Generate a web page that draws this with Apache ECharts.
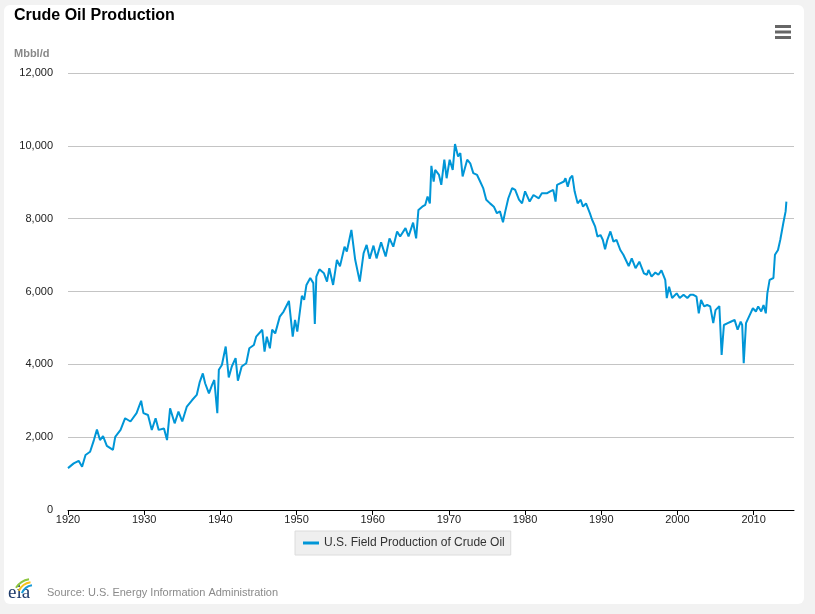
<!DOCTYPE html>
<html><head><meta charset="utf-8">
<script src="https://cdn.jsdelivr.net/npm/echarts@6/dist/echarts.min.js"></script>
<style>
html,body{margin:0;padding:0;background:#f2f2f2;width:815px;height:614px;overflow:hidden}
#card{position:absolute;left:4px;top:5px;width:800px;height:599px;background:#fff;border-radius:6px}
#chart{position:absolute;left:0;top:0;width:815px;height:614px}
</style></head><body><div id="card"></div><div id="chart"></div>
<script>
// Time (decimal year) and U.S. field production of crude oil (thousand barrels per day)
const years = [
1920.0,1920.75,1921.4,1921.85,1922.3,1922.9,1923.4,1923.8,1924.2,1924.6,1925.1,1925.9,1926.2,1926.9,1927.5,1928.2,1929.0,1929.6,1929.9,
1930.5,1931.0,1931.5,1931.9,1932.6,1933.0,1933.4,1934.0,1934.5,1935.0,1935.6,1936.3,1936.9,1937.3,1937.7,1938.0,1938.5,1938.9,1939.2,1939.6,1939.8,
1940.2,1940.7,1941.1,1941.5,1942.0,1942.3,1942.8,1943.4,1943.8,1944.4,1944.7,1945.5,1945.8,1946.1,1946.5,1946.8,1947.2,1947.8,1948.3,1949.0,1949.5,1949.8,
1950.1,1950.7,1951.0,1951.3,1951.8,1952.2,1952.4,1952.6,1953.0,1953.6,1954.0,1954.3,1954.8,1955.3,1955.7,1956.3,1956.6,1957.2,1957.7,1958.3,1958.8,1959.2,1959.6,
1960.1,1960.5,1961.1,1961.7,1962.2,1962.7,1963.2,1963.6,1964.3,1964.7,1965.3,1965.7,1966.0,1966.5,1966.9,1967.2,1967.5,1967.7,1968.0,1968.2,1968.7,1969.0,1969.4,1969.7,
1970.1,1970.5,1970.8,1971.2,1971.5,1971.8,1972.4,1972.8,1973.2,1973.7,1974.1,1974.5,1974.9,1975.4,1975.9,1976.3,1976.7,1977.1,1977.4,1977.8,1978.3,1978.7,1979.2,1979.6,
1980.0,1980.6,1981.1,1981.8,1982.2,1982.9,1983.3,1983.7,1984.0,1984.2,1984.6,1985.1,1985.3,1985.6,1985.9,1986.2,1986.5,1986.9,1987.3,1987.6,1988.0,1988.5,1988.8,1989.2,1989.5,1989.9,
1990.2,1990.5,1990.8,1991.2,1991.6,1992.0,1992.5,1992.9,1993.6,1994.0,1994.5,1995.0,1995.6,1996.0,1996.2,1996.6,1997.1,1997.5,1997.9,1998.4,1998.6,1998.9,1999.3,1999.9,
2000.3,2000.8,2001.3,2001.7,2002.1,2002.5,2002.8,2003.1,2003.5,2003.9,2004.3,2004.7,2005.0,2005.5,2005.8,2006.1,2006.6,2007.0,2007.5,2007.9,2008.3,2008.5,2008.7,2009.0,2009.5,2009.9,
2010.3,2010.6,2011.0,2011.3,2011.6,2011.8,2012.1,2012.6,2012.8,2013.2,2013.5,2013.9,2014.2,2014.3
];
const production = [
1150,1280,1350,1190,1510,1600,1920,2210,1920,2030,1760,1650,2010,2200,2520,2430,2660,3000,2660,
2610,2200,2520,2200,2240,1920,2790,2380,2700,2430,2840,3020,3160,3520,3750,3480,3200,3430,3570,2660,3850,
3980,4490,3640,3940,4170,3550,3940,4030,4440,4530,4760,4950,4350,4760,4440,4950,4850,5310,5450,5740,4760,5220,
4900,5880,5770,6180,6370,6230,5110,6410,6610,6500,6270,6640,6180,6870,6690,7230,7100,7690,6870,6270,7050,7280,6900,
7260,6910,7350,6960,7460,7230,7650,7510,7740,7510,7890,7460,8240,8330,8380,8610,8420,9450,9020,9340,9200,8930,9620,9110,
9620,9340,10050,9710,9800,9160,9620,9520,9250,9200,9020,8840,8520,8420,8330,8150,8200,7900,8200,8560,8840,8790,8520,8420,
8750,8470,8650,8560,8700,8700,8750,8790,8470,8930,8970,9020,9110,8880,9110,9180,8750,8420,8520,8330,8420,8150,7970,7780,7510,7550,
7420,7160,7420,7650,7370,7420,7140,7010,6700,6910,6640,6820,6500,6460,6590,6410,6520,6460,6580,6320,5820,6130,5820,5950,
5820,5910,5820,5910,5910,5860,5400,5770,5590,5630,5590,5130,5490,5600,4260,5080,5130,5170,5220,4950,5170,5080,4030,5130,5360,5540,
5450,5590,5450,5630,5400,5950,6320,6370,7010,7140,7420,7880,8200,8470
];
const xTickYears = [1920,1930,1940,1950,1960,1970,1980,1990,2000,2010];
const seriesName = 'U.S. Field Production of Crude Oil';

const chart = echarts.init(document.getElementById('chart'), null, {renderer:'canvas'});
const font = 'Liberation Sans, Arial, Helvetica, sans-serif';
chart.setOption({
  backgroundColor: 'transparent',
  animation: false,
  textStyle: {fontFamily: font},
  title: {
    text: 'Crude Oil Production', left: 14, top: 8, padding: 0,
    textStyle: {fontSize: 16, fontWeight: 'bold', color: '#000', fontFamily: font}
  },
  legend: {
    data: [seriesName], left: 295, top: 531,
    backgroundColor: '#efefef', borderColor: '#dcdcdc', borderWidth: 1, borderRadius: 0,
    padding: [6, 6, 6, 8], itemWidth: 16, itemHeight: 3, icon: 'rect',
    textStyle: {fontSize: 12, color: '#333', fontFamily: font}
  },
  grid: {left: 68, right: 21, top: 73, bottom: 104, containLabel: false},
  xAxis: {
    type: 'value', min: 1920, max: 2015.3,
    splitLine: {show: false},
    axisLine: {show: true, lineStyle: {color: '#000', width: 1}},
    axisTick: {show: true, length: 5, lineStyle: {color: '#000'}, customValues: xTickYears},
    axisLabel: {customValues: xTickYears, color: '#222', fontSize: 11, margin: 4, formatter: v => String(v)}
  },
  yAxis: {
    type: 'value', min: 0, max: 12000, interval: 2000,
    axisLine: {show: false}, axisTick: {show: false},
    splitLine: {lineStyle: {color: '#c4c4c4', width: 1}},
    axisLabel: {color: '#222', fontSize: 11, margin: 15, padding: [5,0,0,0],
      formatter: v => v.toLocaleString('en-US')}
  },
  graphic: [
    {type: 'text', left: 14, top: 48, style: {text: 'Mbbl/d', fill: '#888', font: 'bold 11px ' + font}},
    {type: 'rect', shape: {x: 775, y: 25, width: 16, height: 3}, style: {fill: '#666'}},
    {type: 'rect', shape: {x: 775, y: 30.5, width: 16, height: 3}, style: {fill: '#666'}},
    {type: 'rect', shape: {x: 775, y: 36, width: 16, height: 3}, style: {fill: '#666'}},
    {type: 'text', left: 47, top: 587, style: {text: 'Source: U.S. Energy Information Administration', fill: '#8a8a8a', font: '11px ' + font}},
    {type: 'text', left: 8, top: 584, style: {text: 'eia', fill: '#1f3b6b', font: '19px Liberation Serif, DejaVu Serif, serif'}},
    {type: 'arc', shape: {cx: 32, cy: 598, r: 19, startAngle: Math.PI*1.18, endAngle: Math.PI*1.45}, style: {stroke: '#8cc63f', lineWidth: 2, fill: null}},
    {type: 'arc', shape: {cx: 33, cy: 598, r: 16, startAngle: Math.PI*1.15, endAngle: Math.PI*1.45}, style: {stroke: '#f7c21b', lineWidth: 2, fill: null}},
    {type: 'arc', shape: {cx: 34, cy: 598, r: 13, startAngle: Math.PI*1.12, endAngle: Math.PI*1.45}, style: {stroke: '#1c9ad6', lineWidth: 2, fill: null}}
  ],
  series: [{
    name: seriesName, type: 'line', showSymbol: false, symbol: 'none',
    data: years.map((y, i) => [y, production[i]]),
    lineStyle: {color: '#0096d7', width: 2}, itemStyle: {color: '#0096d7'}
  }]
});
</script></body></html>
